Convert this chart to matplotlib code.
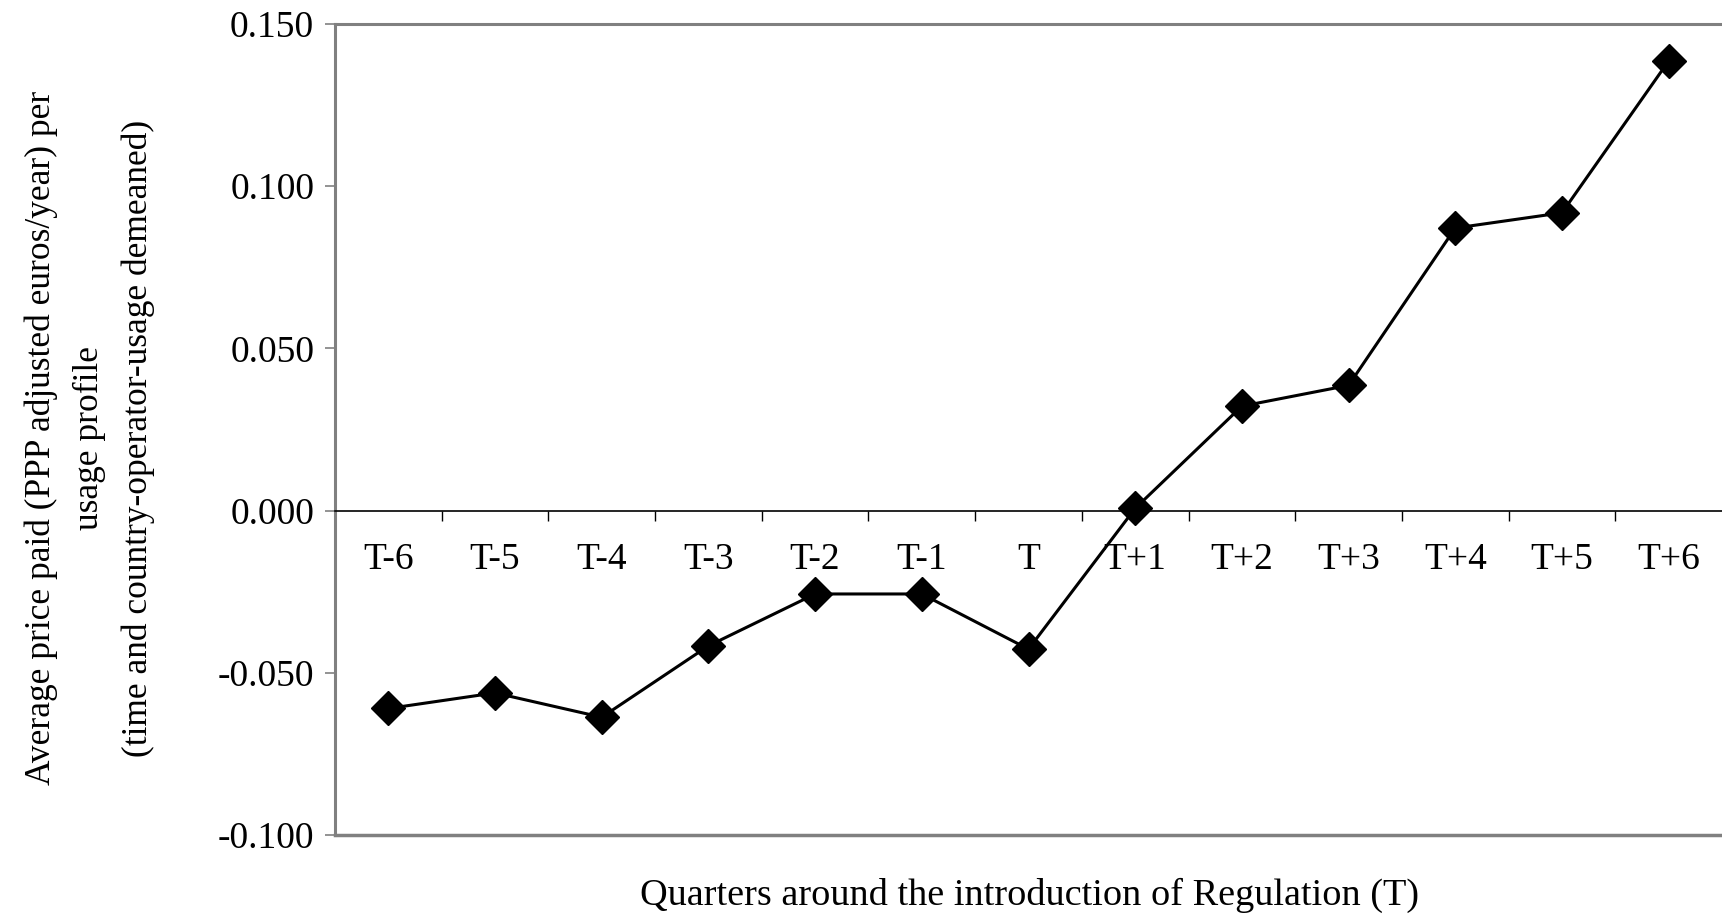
import matplotlib
matplotlib.use("Agg")
import matplotlib.pyplot as plt
from matplotlib.ticker import FormatStrFormatter, FixedLocator
import numpy as np

# datos
trimestres = ["T-6", "T-5", "T-4", "T-3", "T-2", "T-1", "T",
              "T+1", "T+2", "T+3", "T+4", "T+5", "T+6"]
precio = [-0.061, -0.0562, -0.0637, -0.0417, -0.0257, -0.0257, -0.0427,
          0.0007, 0.0322, 0.0386, 0.0871, 0.0918, 0.1386]
y_ticks = [-0.100, -0.050, 0.000, 0.050, 0.100, 0.150]

plt.rcParams['font.family'] = ['Liberation Serif', 'DejaVu Serif']

fig = plt.figure(figsize=(17.22, 9.15), dpi=100)
ax = fig.add_axes([335 / 1722, 1 - 835 / 915, 1 - 335 / 1722, (835 - 24) / 915])

x = np.arange(len(trimestres))
ax.plot(x, precio, color='black', lw=2.2, marker='D', markersize=17,
        markerfacecolor='black', markeredgecolor='black', zorder=5)

ax.set_xlim(-0.5, len(trimestres) - 0.5)
ax.set_ylim(y_ticks[0], y_ticks[-1])

# eje y
ax.set_yticks(y_ticks)
ax.yaxis.set_major_formatter(FormatStrFormatter('%.3f'))
ax.tick_params(axis='y', direction='out', length=7, width=1.2, color='#808080',
               labelsize=27, pad=8)

# eje x sobre el cero
ax.spines['bottom'].set_position(('data', 0))
ax.spines['bottom'].set_color('black')
ax.spines['bottom'].set_linewidth(1.2)
ax.xaxis.set_major_locator(FixedLocator(np.arange(0.5, len(trimestres) - 0.5, 1)))
ax.xaxis.set_minor_locator(FixedLocator(x))
ax.set_xticklabels([], minor=False)
ax.set_xticklabels(trimestres, minor=True)
ax.tick_params(axis='x', which='major', direction='out', length=7, width=1, color='black')
ax.tick_params(axis='x', which='minor', length=0, labelsize=27, pad=23)

for s in ['left', 'top']:
    ax.spines[s].set_color('#808080')
    ax.spines[s].set_linewidth(2.2)
ax.spines['right'].set_visible(False)
ax.axhline(y_ticks[0], color='#808080', lw=2.5, clip_on=False)

fig.text(90 / 1722, 1 - 438 / 915,
         "Average price paid (PPP adjusted euros/year) per\nusage profile\n"
         "(time and country-operator-usage demeaned)",
         rotation=90, ha='center', va='center', multialignment='center',
         fontsize=25.5, linespacing=1.6)
fig.text(1030 / 1722, 1 - 895 / 915, "Quarters around the introduction of Regulation (T)",
         ha='center', va='center', fontsize=27.5)

fig.savefig("out.png", dpi=100)
